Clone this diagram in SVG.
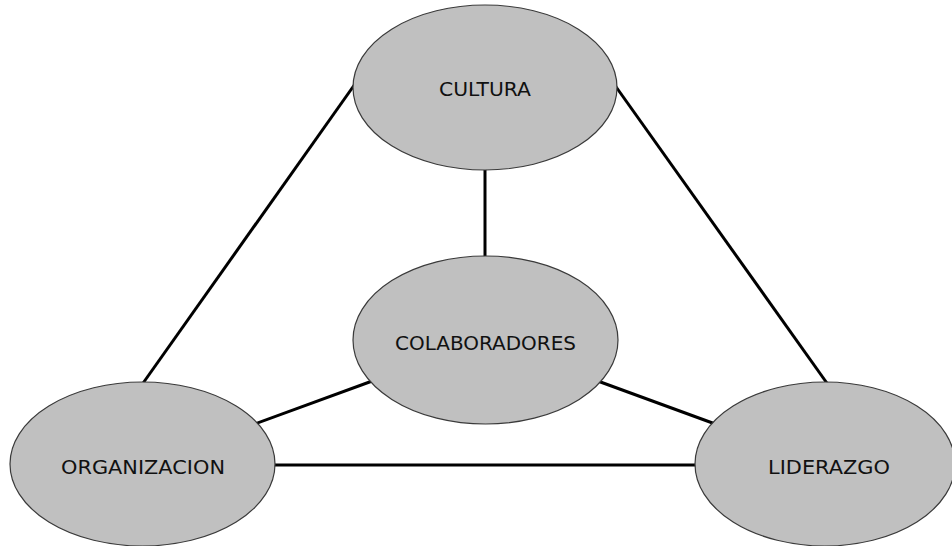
<svg xmlns="http://www.w3.org/2000/svg" width="952" height="546" viewBox="0 0 952 546">
  <style>
    .edge { stroke: #000; stroke-width: 3; fill: none; }
    .node ellipse { fill: #c0c0c0; stroke: #3a3a3a; stroke-width: 1.2; }
    .node text { font-family: "DejaVu Sans", "Liberation Sans", sans-serif; font-size: 19px; fill: #111; text-anchor: middle; dominant-baseline: central; }
  </style>
  <rect width="952" height="546" fill="#fff"/>
  <g id="connectors">
    <line class="edge" x1="485" y1="165" x2="485" y2="262"/>
    <line class="edge" x1="355" y1="84" x2="141" y2="386"/>
    <line class="edge" x1="614" y1="84" x2="829" y2="386"/>
    <line class="edge" x1="375" y1="380" x2="252" y2="425"/>
    <line class="edge" x1="595" y1="380" x2="718" y2="425"/>
    <line class="edge" x1="270" y1="465" x2="700" y2="465"/>
  </g>
  <g id="cultura" class="node">
    <ellipse cx="485" cy="87.5" rx="132" ry="82.5"/>
    <text x="485" y="89" textLength="92" lengthAdjust="spacingAndGlyphs">CULTURA</text>
  </g>
  <g id="colaboradores" class="node">
    <ellipse cx="485.5" cy="340" rx="132.5" ry="84"/>
    <text x="485.5" y="342.5" textLength="181" lengthAdjust="spacingAndGlyphs">COLABORADORES</text>
  </g>
  <g id="organizacion" class="node">
    <ellipse cx="142.5" cy="464" rx="132.5" ry="82"/>
    <text x="143" y="467" textLength="164" lengthAdjust="spacingAndGlyphs">ORGANIZACION</text>
  </g>
  <g id="liderazgo" class="node">
    <ellipse cx="825" cy="464" rx="130" ry="82"/>
    <text x="829" y="467" textLength="122" lengthAdjust="spacingAndGlyphs">LIDERAZGO</text>
  </g>
</svg>
